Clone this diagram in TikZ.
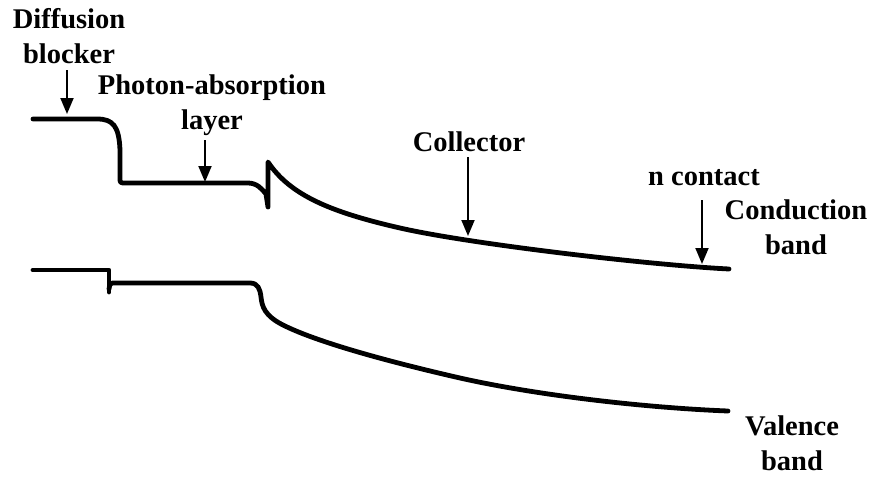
\documentclass[tikz,border=0pt]{standalone}
\usepackage{fontspec}
\setmainfont{Liberation Serif}
\usetikzlibrary{arrows.meta}
\begin{document}
\begin{tikzpicture}[x=1pt,y=-1pt,
  band/.style={line width=4.8pt,line cap=round,line join=round},
  pointer/.style={line width=1.9pt,-{Triangle[width=13pt,length=16pt]}},
  lbl/.style={font=\fontsize{28.5}{35}\selectfont\bfseries,align=center,inner sep=0pt,anchor=base}]
\useasboundingbox (0,0) rectangle (871,477);

% conduction band
\draw[band] (33,119) -- (97,119)
  .. controls (113,119) and (119,126) .. (120,150) -- (120,178)
  .. controls (120,183) .. (126,183) -- (248,183)
  .. controls (257,183) and (262,189) .. (266,194) -- (268,207) -- (268,162)
  .. controls (290,195) and (330,212) .. (400,228)
  .. controls (470,244) and (650,265) .. (729,269);

% valence band
\draw[band] (33,270) -- (109,270) -- (109,292);
\draw[band] (109,289) .. controls (110,283) .. (116,283) -- (250,283)
  .. controls (258,283) and (260,289) .. (261,297)
  .. controls (262,306) and (264,316) .. (285,326)
  .. controls (320,343) and (390,362) .. (460,378)
  .. controls (540,396) and (650,408) .. (728,411);

% labels (base anchor = baseline of the last line)
\node[lbl] (diff) at (69,63) {Diffusion\\blocker};
\node[lbl] (phot) at (212,129) {Photon-absorption\\layer};
\node[lbl] (coll) at (469,151) {Collector};
\node[lbl] (ncon) at (704,185) {n contact};
\node[lbl] (cond) at (796,254) {Conduction\\band};
\node[lbl] (vale) at (792,470) {Valence\\band};

% pointers
\coordinate (dA) at (67,70);  \coordinate (dB) at (67,114);
\coordinate (pA) at (205,140); \coordinate (pB) at (205,182);
\coordinate (cA) at (468,157); \coordinate (cB) at (468,236);
\coordinate (nA) at (702,200); \coordinate (nB) at (702,264);
\draw[pointer] (dA) -- (dB);
\draw[pointer] (pA) -- (pB);
\draw[pointer] (cA) -- (cB);
\draw[pointer] (nA) -- (nB);
\end{tikzpicture}
\end{document}
